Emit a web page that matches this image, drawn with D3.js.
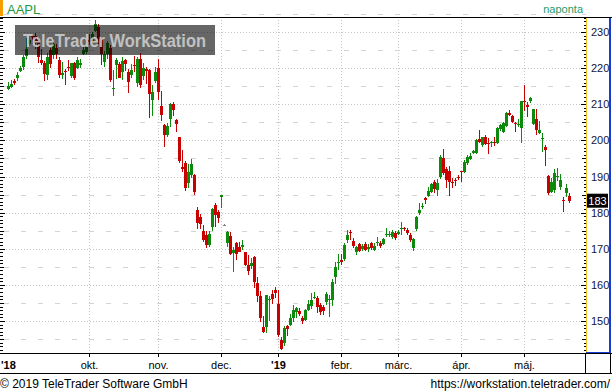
<!DOCTYPE html>
<html>
<head>
<meta charset="utf-8">
<script src="https://cdn.jsdelivr.net/npm/d3@7"></script>
<style>
body { margin: 0; background: #fff; }
text { font-family: "Liberation Sans", Arial, sans-serif; }
</style>
</head>
<body>
<script>
// AAPL daily candles, 22 Aug 2018 .. 22 May 2019
const open = [
214.3,214.7,216.5,217.2,219.2,220.3,223.4,226.6,228.8,229.0,
227.8,222.2,221.3,218.1,225.0,223.5,225.7,222.3,218.0,219.3,
220.4,217.8,221.3,220.0,220.9,223.9,224.6,227.9,227.4,230.2,
231.5,228.2,221.8,224.0,225.5,214.3,221.0,221.1,218.8,222.3,
219.0,218.1,221.0,215.8,222.6,217.8,219.7,219.5,211.2,216.4,
220.1,209.4,204.3,201.5,205.8,210.2,205.6,200.9,192.6,193.7,
188.3,190.5,190.4,180.6,178.9,174.9,173.8,171.0,176.1,182.1,
180.3,184.4,176.7,171.7,173.5,168.8,171.6,170.4,170.5,169.0,
165.4,165.3,167.6,160.5,157.0,148.4,148.3,155.8,157.5,158.5,
154.7,144.7,143.8,148.7,149.0,150.9,152.5,152.9,150.9,150.2,
153.0,154.1,156.5,156.5,154.5,153.8,155.2,155.9,155.8,162.3,
166.0,166.9,167.1,172.4,174.5,172.2,169.1,171.3,169.9,171.3,
169.9,171.5,169.7,171.5,171.7,171.3,173.7,173.8,173.2,174.3,
174.1,175.5,175.7,175.2,173.8,170.1,175.4,179.8,181.6,184.0,
184.6,185.8,188.5,186.3,189.9,195.0,192.0,191.6,188.5,189.0,
190.0,191.6,191.3,193.7,194.8,196.6,196.6,200.3,198.7,201.0,
199.3,199.3,199.5,199.2,203.1,202.4,204.0,207.5,206.7,204.8,
204.4,203.3,211.0,209.8,210.9,204.5,205.8,202.1,200.5,198.3,
190.1,185.8,186.3,190.0,187.2,183.5,185.4,184.6];
const high = [
216.2,216.8,217.0,218.8,220.6,223.5,228.3,228.9,229.2,229.7,
228.3,225.3,222.0,224.3,225.6,228.3,226.8,223.0,221.8,219.8,
222.3,221.5,221.8,223.0,222.6,226.4,226.0,229.4,230.0,233.4,
232.3,228.6,224.8,227.4,226.4,219.5,222.9,221.8,223.0,222.6,
219.7,221.2,223.3,223.2,224.2,221.4,220.2,219.7,215.2,220.4,
222.5,213.7,204.5,204.7,210.3,210.5,206.0,201.0,197.2,194.4,
193.5,194.9,190.7,181.5,179.6,176.6,174.9,174.8,181.3,182.8,
180.6,185.0,176.9,174.8,174.6,170.6,172.0,172.0,172.5,169.1,
168.3,167.5,168.0,162.1,158.2,151.5,157.2,156.8,158.5,159.4,
158.6,145.7,148.6,148.8,151.8,154.5,154.0,153.7,151.3,153.4,
155.9,157.7,157.9,156.8,155.1,154.5,158.1,157.2,161.5,166.2,
168.5,168.5,171.7,175.1,175.1,173.0,170.7,171.5,171.3,172.0,
171.3,171.9,171.5,173.3,172.2,173.0,175.7,175.0,175.2,175.0,
175.2,177.5,176.0,175.8,174.3,173.0,179.2,182.6,182.7,184.4,
187.0,188.2,189.0,189.4,196.0,197.5,192.5,192.9,189.5,189.5,
190.4,191.6,194.5,196.0,196.4,197.4,200.3,202.9,201.0,201.4,
200.6,199.9,201.0,203.6,204.5,205.0,207.8,208.4,207.0,205.2,
205.8,211.0,215.3,210.7,212.1,208.8,208.6,205.4,202.0,198.8,
190.5,189.5,192.0,192.3,190.7,184.4,187.9,185.5];
const low = [
213.9,214.4,215.2,216.5,218.9,219.6,222.6,226.1,226.7,225.2,
221.3,220.8,216.5,216.6,219.9,222.6,222.6,217.3,217.1,215.3,
219.2,217.3,216.6,219.7,220.0,223.5,224.0,226.4,226.8,229.9,
226.7,220.8,220.3,222.4,216.1,212.2,216.9,217.2,216.8,219.3,
213.1,217.4,218.9,214.7,214.5,216.7,215.5,206.3,206.8,216.0,
211.2,205.4,198.2,201.0,203.8,206.7,202.3,193.8,191.3,185.9,
186.7,189.5,184.9,175.6,175.6,171.9,170.3,170.6,174.9,176.0,
177.0,181.2,176.5,170.4,168.3,163.5,167.0,169.0,169.6,165.3,
162.7,164.4,159.1,155.3,149.6,146.6,146.7,150.1,154.6,156.5,
145.5,142.0,143.2,145.9,148.5,149.6,150.9,151.5,149.2,150.0,
152.9,153.3,156.0,152.1,151.7,151.7,154.3,151.0,154.1,160.2,
164.0,165.5,166.5,171.6,172.4,170.3,168.4,169.0,169.4,169.4,
169.0,169.6,169.3,170.8,170.3,170.9,173.3,173.2,172.8,172.5,
173.8,173.8,174.9,173.8,172.0,169.5,175.0,179.4,180.9,182.4,
184.2,185.3,185.3,184.7,189.3,190.5,186.7,184.7,186.7,187.4,
189.0,188.4,191.0,193.2,194.5,196.2,196.2,199.2,198.3,198.8,
196.2,198.3,198.5,198.9,202.6,202.0,203.6,206.8,204.8,202.4,
203.8,199.4,208.0,206.6,210.3,204.2,201.5,201.8,196.9,192.9,
184.9,185.3,185.3,188.8,186.3,180.3,184.4,182.6];
const close = [
215.1,215.5,216.0,218.1,220.0,223.2,225.3,227.8,228.5,226.9,
223.2,221.4,218.5,223.2,221.2,226.6,223.8,218.1,218.6,218.8,
220.1,221.3,217.2,222.3,221.3,225.1,225.8,227.3,229.4,232.2,
228.2,223.8,224.0,227.0,216.8,214.6,222.2,217.4,222.0,221.2,
216.1,219.4,220.7,222.6,215.3,219.9,219.2,212.8,213.4,219.0,
213.4,206.9,201.5,203.9,210.2,208.4,204.6,194.2,192.2,186.8,
191.3,193.5,185.8,177.0,176.8,172.3,171.0,174.2,180.9,179.4,
178.5,184.8,176.7,174.6,168.5,169.6,168.6,169.1,170.9,165.4,
163.9,166.1,160.8,156.8,150.7,147.0,157.1,156.2,156.2,157.7,
146.1,142.2,148.0,147.9,150.7,153.1,153.6,152.0,150.1,153.0,
154.7,155.8,156.7,153.8,152.6,152.7,157.5,156.1,160.9,165.0,
166.3,166.2,171.0,173.8,174.3,170.8,170.4,169.5,170.8,169.6,
170.4,170.1,170.8,171.8,170.8,172.6,174.0,174.1,174.7,172.9,
174.7,175.8,175.5,174.3,172.4,172.6,178.9,180.7,181.9,183.5,
186.1,187.9,186.5,188.3,195.3,190.9,189.0,188.6,188.3,188.8,
189.5,191.3,194.1,195.5,195.8,197.1,200.1,199.6,200.9,199.0,
199.2,199.5,199.3,203.3,204.3,204.9,207.7,207.0,205.2,204.6,
204.6,210.9,210.8,209.3,211.8,208.6,202.9,202.9,200.7,197.3,
185.5,188.6,190.9,190.2,189.0,183.2,186.7,183.3];

// first trading day of each month (index into the arrays above)
const monthStart = [27, 50, 71, 90, 111, 130, 151, 172];
const monthLabels = ["okt.", "nov.", "dec.", "'19", "febr.", "márc.", "ápr.", "máj."];
const yTicks = [150, 160, 170, 180, 190, 200, 210, 220, 230];

const width = 612, height = 392;
const plot = {left: 0, right: 586, top: 17, bottom: 353};
const green = "#0b8a0b", red = "#c80000", grid = "#c4c4c4";

const svg = d3.select("body").append("svg")
    .attr("width", width)
    .attr("height", height);

const x = d3.scaleLinear().domain([0, close.length - 1]).range([7.7, 568.7]);
const y = d3.scaleLinear().domain([150, 230]).range([321, 32]);
const px = v => Math.round(v) + 0.5;

const candles = d3.range(close.length).map(i => ({i, o: open[i], h: high[i], l: low[i], c: close[i]}));
const colorOf = d => d.c > d.o ? green : d.c < d.o ? red : "#808080";

// grid
const g = svg.append("g");
g.selectAll(".hgrid").data(yTicks).join("line")
    .attr("x1", plot.left).attr("x2", plot.right)
    .attr("y1", d => px(y(d))).attr("y2", d => px(y(d)))
    .attr("stroke", grid).attr("stroke-dasharray", "1,2");
g.selectAll(".hmid").data(yTicks.map(d => d - 5).concat([235])).join("line")
    .attr("x1", plot.left + 4).attr("x2", plot.right)
    .attr("y1", d => px(y(d))).attr("y2", d => px(y(d)))
    .attr("stroke", "#d4d4d4").attr("stroke-dasharray", "5,12");
g.selectAll(".vgrid").data(monthStart).join("line")
    .attr("x1", d => px(x(d))).attr("x2", d => px(x(d)))
    .attr("y1", plot.top).attr("y2", plot.bottom)
    .attr("stroke", grid).attr("stroke-dasharray", "1,2");

// candles
const cg = svg.append("g").attr("shape-rendering", "crispEdges");
cg.selectAll("line").data(candles).join("line")
    .attr("x1", d => px(x(d.i))).attr("x2", d => px(x(d.i)))
    .attr("y1", d => y(d.h)).attr("y2", d => y(d.l))
    .attr("stroke", colorOf);
cg.selectAll("rect").data(candles).join("rect")
    .attr("x", d => Math.round(x(d.i)) - 1)
    .attr("width", 3)
    .attr("y", d => y(Math.max(d.o, d.c)))
    .attr("height", d => Math.max(1, y(Math.min(d.o, d.c)) - y(Math.max(d.o, d.c))))
    .attr("fill", colorOf);

// side ticks (every unit)
const minor = d3.range(142, 235);
const tickLen = d => d % 10 === 0 ? 5 : d % 5 === 0 ? 4 : 2.5;
const tg = svg.append("g").attr("stroke", "#000").attr("shape-rendering", "crispEdges");
tg.selectAll(".tl").data(minor).join("line")
    .attr("x1", 0).attr("x2", d => tickLen(d))
    .attr("y1", d => px(y(d))).attr("y2", d => px(y(d)));
tg.selectAll(".tr").data(minor).join("line")
    .attr("x1", d => plot.right - tickLen(d)).attr("x2", plot.right)
    .attr("y1", d => px(y(d))).attr("y2", d => px(y(d)));

// watermark
svg.append("rect").attr("x", 15).attr("y", 25).attr("width", 200).attr("height", 30)
    .attr("fill", "#000").attr("opacity", 0.6);
svg.append("text").attr("x", 23).attr("y", 47)
    .attr("font-size", 19).attr("font-weight", "bold")
    .attr("textLength", 183).attr("lengthAdjust", "spacingAndGlyphs")
    .attr("fill", "#d2d2d2").attr("opacity", 0.85)
    .text("TeleTrader WorkStation");

// frame
svg.append("line").attr("x1", 0).attr("x2", width).attr("y1", 17.5).attr("y2", 17.5).attr("stroke", "#000");
svg.append("line").attr("x1", 586.5).attr("x2", 586.5).attr("y1", 18).attr("y2", plot.bottom).attr("stroke", "#f0c020");
svg.append("line").attr("x1", 610).attr("x2", 610).attr("y1", 18).attr("y2", plot.bottom).attr("stroke", "#1a3ad0").attr("stroke-width", 2);
svg.append("line").attr("x1", 586).attr("x2", 611).attr("y1", 352.5).attr("y2", 352.5).attr("stroke", "#1a3ad0");
svg.append("line").attr("x1", 0).attr("x2", width).attr("y1", 353.5).attr("y2", 353.5).attr("stroke", "#000");
svg.append("line").attr("x1", 0).attr("x2", width).attr("y1", 373.5).attr("y2", 373.5).attr("stroke", "#000");
svg.append("line").attr("x1", 585.5).attr("x2", 585.5).attr("y1", 353).attr("y2", 374).attr("stroke", "#000");
svg.append("line").attr("x1", 610.5).attr("x2", 610.5).attr("y1", 353).attr("y2", 374).attr("stroke", "#000");

// y labels
svg.append("g").selectAll("text").data(yTicks).join("text")
    .attr("x", 591).attr("y", d => y(d) + 4)
    .attr("font-size", 11).attr("fill", "#14143a")
    .text(d => d);

// last price
const last = close[close.length - 1];
svg.append("rect").attr("x", 587).attr("y", y(last) - 7).attr("width", 21).attr("height", 14).attr("fill", "#000");
svg.append("text").attr("x", 597.5).attr("y", y(last) + 4).attr("text-anchor", "middle")
    .attr("font-size", 11).attr("fill", "#fff").text(Math.round(last));

// x labels
svg.append("g").selectAll("line").data(monthStart).join("line")
    .attr("x1", d => px(x(d))).attr("x2", d => px(x(d)))
    .attr("y1", 353).attr("y2", 357).attr("stroke", "#000");
svg.append("g").selectAll("text").data(monthStart).join("text")
    .attr("x", d => px(x(d))).attr("y", 369)
    .attr("text-anchor", "middle").attr("font-size", 11)
    .attr("font-weight", (d, i) => monthLabels[i].startsWith("'") ? "bold" : null)
    .text((d, i) => monthLabels[i]);
svg.append("text").attr("x", 1).attr("y", 369).attr("font-size", 11).attr("font-weight", "bold").text("'18");

// header
svg.append("rect").attr("x", 0).attr("y", 0).attr("width", 3).attr("height", 16).attr("fill", "#f5a000");
svg.append("text").attr("x", 7).attr("y", 14).attr("font-size", 13).attr("fill", "#1e9a3a").text("AAPL");
svg.append("text").attr("x", 583).attr("y", 13).attr("text-anchor", "end").attr("font-size", 11).attr("fill", "#2a9a6a").text("naponta");

// footer
svg.append("text").attr("x", 0).attr("y", 388).attr("font-size", 12).text("© 2019 TeleTrader Software GmbH");
svg.append("text").attr("x", 610).attr("y", 388).attr("text-anchor", "end").attr("font-size", 12).text("https://workstation.teletrader.com/");
</script>
</body>
</html>
